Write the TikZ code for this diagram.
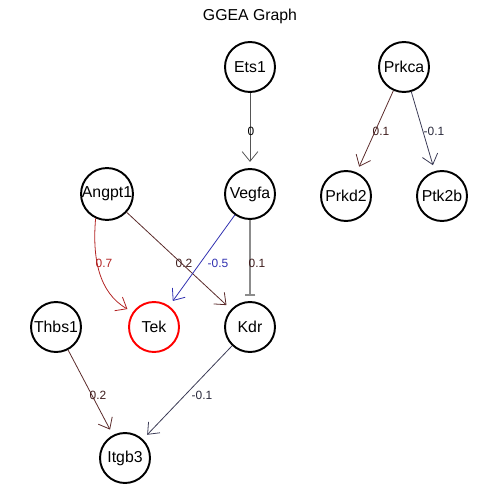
\documentclass[tikz,border=0pt]{standalone}
\usepackage{fontspec}
\setmainfont{Liberation Sans}
\usetikzlibrary{arrows.meta}
\definecolor{redge}{HTML}{B22222}
\definecolor{bedge}{HTML}{5A2A2A}
\definecolor{nedge}{HTML}{3A3A55}
\definecolor{vedge}{HTML}{3030B0}
\definecolor{gedge}{HTML}{555555}
\definecolor{iedge}{HTML}{8C8C8C}
\begin{document}
\begin{tikzpicture}[x=0.02cm,y=-0.02cm,
  gene/.style={circle,draw=black,line width=1.1pt,minimum size=1cm,inner sep=0pt,font=\fontsize{9}{10}\selectfont},
  lbl/.style={font=\fontsize{6.8}{8}\selectfont,inner sep=1pt},
  act/.style={-{Straight Barb[length=5.5pt,width=9pt]},line width=0.45pt,shorten >=3.5pt},
  inh/.style={-{Bar[width=6pt]},line width=1.1pt,draw=iedge}]
\useasboundingbox (0,0) rectangle (500,500);
\node[font=\fontsize{9}{10}\selectfont] (title) at (250,16) {GGEA Graph};
% gene nodes
\node[gene] (ets1) at (250,67) {Ets1};
\node[gene] (prkca) at (404,67) {Prkca};
\node[gene] (angpt1) at (107,194) {Angpt1};
\node[gene] (vegfa) at (250,194) {Vegfa};
\node[gene] (prkd2) at (346,196) {Prkd2};
\node[gene] (ptk2b) at (442,196) {Ptk2b};
\node[gene] (thbs1) at (56,327) {Thbs1};
\node[gene,draw=red] (tek) at (154,327) {Tek};
\node[gene] (kdr) at (250,327) {Kdr};
\node[gene] (itgb3) at (125,458) {Itgb3};
% interactions
\draw[act,gedge] (ets1) -- (vegfa);
\node[lbl] (l1) at (251,131) {0};
\draw[inh] (vegfa) -- ([yshift=3pt]kdr.north);
\node[lbl,text=bedge!70!black] (l2) at (257,263) {0.1};
\draw[act,redge] (angpt1.245) to[out=265,in=150] (tek.145);
\node[lbl,text=redge] (l3) at (104,263) {0.7};
\draw[act,bedge] (angpt1) -- (kdr);
\node[lbl,text=bedge!70!black] (l4) at (184,263) {0.2};
\draw[act,vedge] (vegfa) -- (tek);
\node[lbl,text=vedge] (l5) at (218,263) {-0.5};
\draw[act,bedge] (prkca) -- (prkd2);
\node[lbl,text=bedge!70!black] (l6) at (381,131) {0.1};
\draw[act,nedge] (prkca) -- (ptk2b);
\node[lbl,text=nedge!70!black] (l7) at (434,131) {-0.1};
\draw[act,bedge] (thbs1) -- (itgb3);
\node[lbl,text=bedge!70!black] (l8) at (98,395) {0.2};
\draw[act,nedge] (kdr) -- (itgb3);
\node[lbl,text=nedge!70!black] (l9) at (202,395) {-0.1};
\end{tikzpicture}
\end{document}
